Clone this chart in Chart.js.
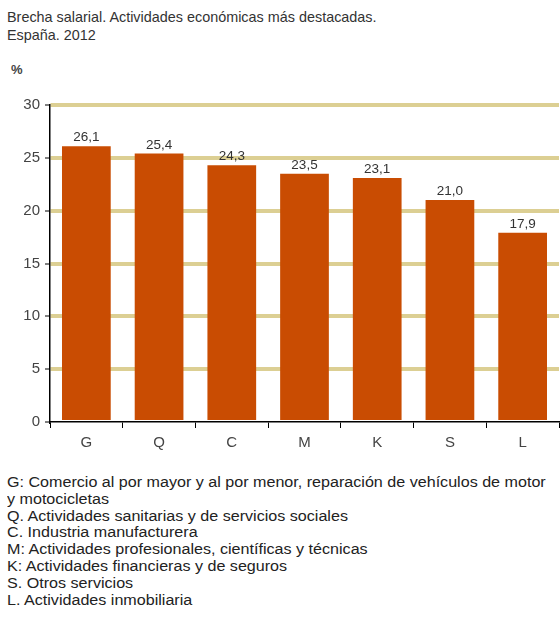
<!DOCTYPE html>
<html lang="es">
<head>
<meta charset="UTF-8">
<title>Brecha salarial 2012</title>
<script src="https://cdn.jsdelivr.net/npm/chart.js@4.4.1/dist/chart.umd.min.js"></script>
<style>
    * { margin: 0; padding: 0; box-sizing: border-box; }
    body {
        width: 560px;
        height: 619px;
        background: #fff;
        font-family: Arial, "Liberation Sans", sans-serif;
        color: #333;
        position: relative;
        overflow: hidden;
    }
    .title {
        position: absolute;
        left: 7px;
        top: 8px;
        font-size: 14.4px;
        line-height: 18px;
    }
    .unit {
        position: absolute;
        left: 11px;
        top: 62px;
        font-size: 13px;
        font-weight: bold;
        color: #444;
    }
    .chart-box {
        position: absolute;
        left: 0;
        top: 80px;
        width: 560px;
        height: 380px;
    }
    .notes {
        position: absolute;
        left: 7px;
        top: 474px;
        font-size: 14px;
        line-height: 16.8px;
        color: #222;
        white-space: nowrap;
        transform: scaleX(1.15);
        transform-origin: left top;
    }
</style>
</head>
<body>
    <div class="title">Brecha salarial. Actividades económicas más destacadas.<br>España. 2012</div>
    <div class="unit">%</div>
    <div class="chart-box"><canvas id="gapChart"></canvas></div>
    <div class="notes">
        G: Comercio al por mayor y al por menor, reparación de vehículos de motor<br>
        y motocicletas<br>
        Q. Actividades sanitarias y de servicios sociales<br>
        C. Industria manufacturera<br>
        M: Actividades profesionales, científicas y técnicas<br>
        K: Actividades financieras y de seguros<br>
        S. Otros servicios<br>
        L. Actividades inmobiliaria
    </div>

<script>
    // Data
    const sectors = ['G', 'Q', 'C', 'M', 'K', 'S', 'L'];
    const gapValues = [26.1, 25.4, 24.3, 23.5, 23.1, 21.0, 17.9];
    const yTicks = [0, 5, 10, 15, 20, 25, 30];

    // value labels above each bar, Spanish decimal comma
    const valueLabels = {
        id: 'valueLabels',
        afterDatasetsDraw(chart) {
            const ctx = chart.ctx;
            const meta = chart.getDatasetMeta(0);
            ctx.save();
            ctx.font = '13.5px Arial, "Liberation Sans", sans-serif';
            ctx.fillStyle = '#333';
            ctx.textAlign = 'center';
            ctx.textBaseline = 'bottom';
            meta.data.forEach((bar, i) => {
                const txt = gapValues[i].toFixed(1).replace('.', ',');
                ctx.fillText(txt, bar.x, bar.y - 2);
            });
            ctx.restore();
        }
    };

    new Chart(document.getElementById('gapChart'), {
        type: 'bar',
        data: {
            labels: sectors,
            datasets: [{
                data: gapValues,
                backgroundColor: '#c94c02',
                borderWidth: 0,
                categoryPercentage: 1,
                barPercentage: 0.67
            }]
        },
        options: {
            responsive: true,
            maintainAspectRatio: false,
            animation: false,
            layout: { padding: { top: 25, right: 1, left: 0, bottom: 0 } },
            plugins: {
                legend: { display: false },
                tooltip: { enabled: false }
            },
            scales: {
                x: {
                    grid: {
                        offset: true,
                        drawOnChartArea: false,
                        tickLength: 6,
                        tickColor: '#000',
                        tickWidth: 1
                    },
                    border: { color: '#000', width: 1.5 },
                    ticks: {
                        color: '#444',
                        font: { size: 15, family: 'Arial, "Liberation Sans", sans-serif' },
                        padding: 6
                    },
                    afterFit(scale) { scale.height = 38; }
                },
                y: {
                    min: 0,
                    max: 30,
                    afterBuildTicks(scale) {
                        scale.ticks = yTicks.map(v => ({ value: v }));
                    },
                    grid: {
                        color: ctx => ctx.tick && ctx.tick.value === 0 ? 'rgba(0,0,0,0)' : 'rgba(214,199,128,0.85)',
                        lineWidth: 4,
                        tickLength: 5,
                        tickColor: '#000',
                        tickWidth: 1
                    },
                    border: { color: '#000', width: 1.5 },
                    ticks: {
                        color: '#444',
                        font: { size: 15, family: 'Arial, "Liberation Sans", sans-serif' },
                        padding: 5
                    },
                    afterFit(scale) { scale.width = 50; }
                }
            }
        },
        plugins: [valueLabels]
    });
</script>
</body>
</html>
